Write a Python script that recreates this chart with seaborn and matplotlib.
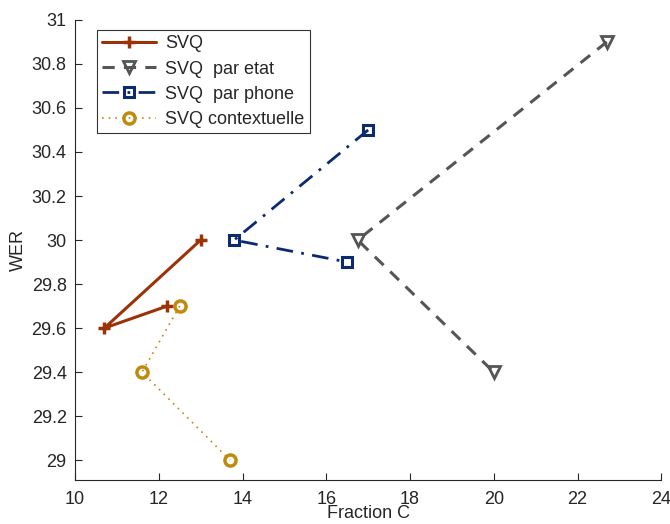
import numpy as np
import pandas as pd
import matplotlib
matplotlib.use("Agg")
import matplotlib.pyplot as plt
import matplotlib.ticker as mticker
import seaborn as sns

sns.set_style("ticks")
plt.rcParams['font.family'] = ['Liberation Sans', 'DejaVu Sans']

# data
series_names = ['SVQ', 'SVQ  par etat', 'SVQ  par phone', 'SVQ contextuelle']
svq_x = [13.0, 10.7, 12.2]
svq_y = [30.0, 29.6, 29.7]
etat_x = [22.7, 16.75, 20.0]
etat_y = [30.9, 30.0, 29.4]
phone_x = [17.0, 13.8, 16.5]
phone_y = [30.5, 30.0, 29.9]
ctx_x = [12.5, 11.6, 13.7]
ctx_y = [29.7, 29.4, 29.0]

xs = [svq_x, etat_x, phone_x, ctx_x]
ys = [svq_y, etat_y, phone_y, ctx_y]
rows = []
for name, xv, yv in zip(series_names, xs, ys):
    for i, (a, b) in enumerate(zip(xv, yv)):
        rows.append((name, i, a, b))
df = pd.DataFrame(rows, columns=['serie', 'order', 'frac', 'wer'])

colors = ['#9c3308', '#555555', '#0c2a70', '#c08a0c']
styles = [
    dict(ls='-', lw=2.2, marker='+', ms=8, mew=2.5),
    dict(ls=(0, (4, 3)), lw=2.2, marker='v', ms=9, mfc='none', mew=2),
    dict(ls=(0, (6, 3, 1, 3)), lw=2.0, marker='s', ms=7, mfc='none', mew=2.2),
    dict(ls=(0, (1, 3)), lw=1.2, marker='o', ms=8, mfc='none', mew=2.5),
]

fig = plt.figure(figsize=(6.7, 5.24), dpi=100)
ax = fig.add_axes([0.112, 0.084, 0.875, 0.878])

for name, col, st in zip(series_names, colors, styles):
    sub = df[df['serie'] == name]
    sns.lineplot(data=sub, x='frac', y='wer', sort=False, estimator=None,
                 ax=ax, color=col, mec=col, label=name, **st)

ax.set_xlim(10, 24)
ax.set_ylim(28.91, 31)
ax.set_xticks(np.arange(10, 25, 2))
ax.set_yticks(np.arange(29, 31.01, 0.2))
ax.yaxis.set_major_formatter(mticker.FuncFormatter(lambda v, p: '%g' % round(v, 1)))
ax.tick_params(direction='in', length=5, labelsize=13, width=0.8)
ax.tick_params(axis='y', pad=6)
ax.tick_params(axis='x', pad=8)
sns.despine(ax=ax)
ax.spines['left'].set_linewidth(0.8)
ax.spines['bottom'].set_linewidth(0.8)

ax.set_xlabel('Fraction C', fontsize=13, labelpad=-2)
ax.set_ylabel('WER', fontsize=13, labelpad=3)

leg = ax.legend(loc='upper left', bbox_to_anchor=(0.037, 0.978), fontsize=13,
                frameon=True, fancybox=False, edgecolor='black',
                handlelength=3.0, borderpad=0.3, labelspacing=0.45,
                handletextpad=0.5, borderaxespad=0)
leg.get_frame().set_linewidth(0.8)

fig.savefig('out.png', dpi=100)
